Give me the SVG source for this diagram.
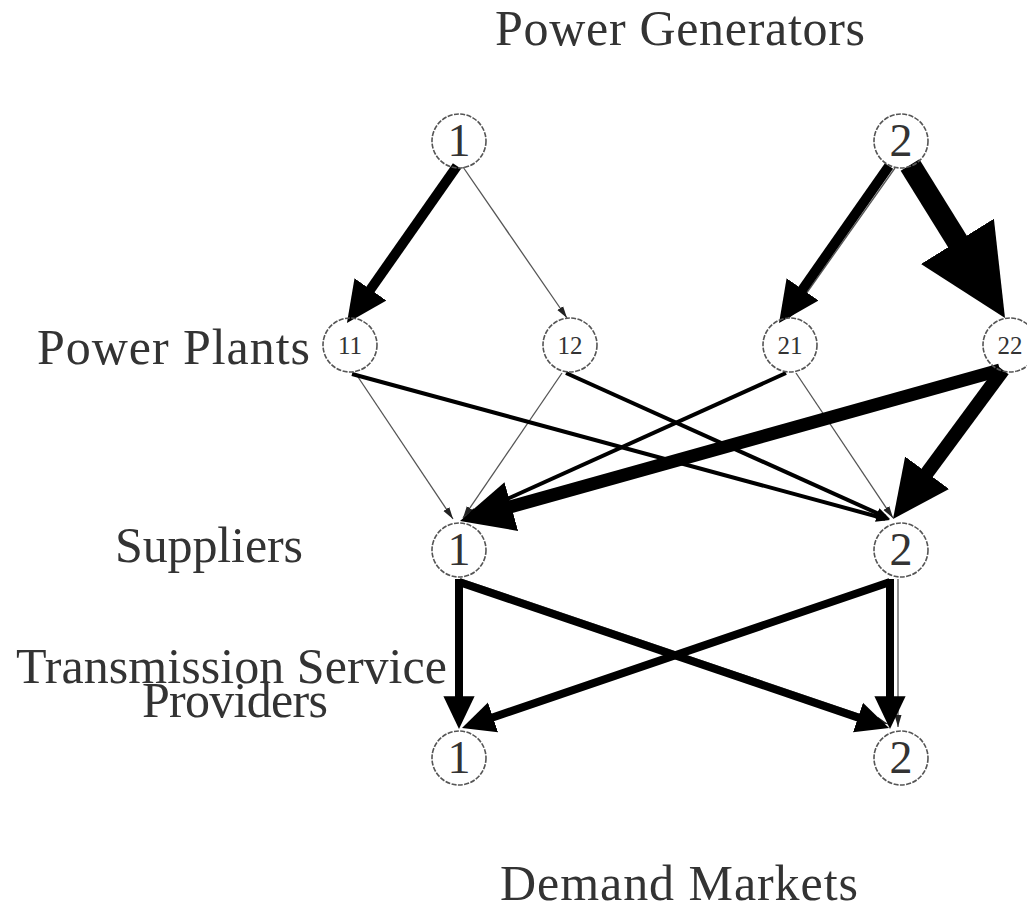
<svg xmlns="http://www.w3.org/2000/svg" width="1027" height="910" viewBox="0 0 1027 910">
<style>
.lbl{font-family:"Liberation Serif","DejaVu Serif",serif;font-size:50px;fill:#333}
.nd{fill:none;stroke:#555;stroke-width:1.6;stroke-dasharray:5 1.4}
.big{font-family:"Liberation Serif","DejaVu Serif",serif;font-size:46px;fill:#333;text-anchor:middle}
.sm{font-family:"Liberation Serif","DejaVu Serif",serif;font-size:25px;fill:#333;text-anchor:middle}
.thin{stroke:#555;stroke-width:1.3;fill:none;marker-end:url(#ahThin)}
.med{stroke:#000;stroke-width:4;fill:none;marker-end:url(#ahMed)}
.thick{stroke:#000;fill:none;marker-end:url(#ah)}
</style>
<defs>
<marker id="ah" viewBox="0 -2 4.1 4" refX="1.6" refY="0" markerWidth="4.1" markerHeight="4" orient="auto" markerUnits="strokeWidth"><path d="M0,-1.95 L4.1,0 L0,1.95 z" fill="#000"/></marker>
<marker id="ahThin" viewBox="0 -4 12 8" refX="12" refY="0" markerWidth="12" markerHeight="8" orient="auto" markerUnits="userSpaceOnUse"><path d="M0,-3.5 L12,0 L0,3.5 z" fill="#222"/></marker>
<marker id="ahMed" viewBox="0 -6 14 12" refX="9" refY="0" markerWidth="14" markerHeight="12" orient="auto" markerUnits="userSpaceOnUse"><path d="M0,-5.5 L14,0 L0,5.5 z" fill="#000"/></marker>
</defs>
<rect width="1027" height="910" fill="#fff"/>
<g id="labels">
<text class="lbl" x="495" y="45" textLength="370">Power Generators</text>
<text class="lbl" x="37" y="364" textLength="273">Power Plants</text>
<text class="lbl" x="115" y="562" textLength="188">Suppliers</text>
<text class="lbl" x="16" y="683" textLength="431">Transmission Service</text>
<text class="lbl" x="142" y="717" textLength="186">Providers</text>
<text class="lbl" x="500" y="900" textLength="358">Demand Markets</text>
</g>
<g id="connectors">
<line class="thin" x1="463" y1="167" x2="567" y2="318"/>
<line class="thin" x1="895" y1="168" x2="789" y2="318"/>
<line class="thin" x1="356" y1="374" x2="453" y2="519"/>
<line class="thin" x1="562" y1="373" x2="463" y2="518"/>
<line class="thin" x1="796" y1="373" x2="893" y2="518"/>
<line class="thin" x1="461" y1="579" x2="888" y2="724"/>
<line class="thin" x1="898" y1="579" x2="898" y2="727"/>
<line class="med" x1="786" y1="373" x2="467.6" y2="516.9"/>
<line class="med" x1="352" y1="374" x2="885.2" y2="518.7"/>
<line class="med" x1="566" y1="373" x2="885.4" y2="516.9"/>
<line class="thick" stroke-width="10" x1="457" y1="166" x2="361.3" y2="302.5"/>
<line class="thick" stroke-width="10" x1="889" y1="166" x2="793.4" y2="302.5"/>
<line class="thick" stroke-width="22" x1="910" y1="165" x2="976" y2="271.3"/>
<line class="thick" stroke-width="13" x1="1000" y1="370" x2="491.3" y2="512.2"/>
<line class="thick" stroke-width="14" x1="1003" y1="370" x2="913.8" y2="490.8"/>
<line class="thick" stroke-width="8" x1="459" y1="579" x2="459" y2="709"/>
<line class="thick" stroke-width="8" x1="459" y1="582" x2="870.1" y2="721.6"/>
<line class="thick" stroke-width="8" x1="890" y1="582" x2="480.9" y2="721.5"/>
<line class="thick" stroke-width="8" x1="890" y1="579" x2="890" y2="709"/>
</g>
<g id="G1"><circle class="nd" cx="459" cy="141" r="27"/><text class="big" x="459" y="156">1</text></g>
<g id="G2"><circle class="nd" cx="901" cy="141" r="27"/><text class="big" x="901" y="156">2</text></g>
<g id="P11"><circle class="nd" cx="350" cy="345" r="27"/><text class="sm" x="350" y="354">11</text></g>
<g id="P12"><circle class="nd" cx="570" cy="345" r="27"/><text class="sm" x="570" y="354">12</text></g>
<g id="P21"><circle class="nd" cx="790" cy="345" r="27"/><text class="sm" x="790" y="354">21</text></g>
<g id="P22"><circle class="nd" cx="1010" cy="345" r="27"/><text class="sm" x="1010" y="354">22</text></g>
<g id="S1"><circle class="nd" cx="459" cy="550" r="27"/><text class="big" x="459" y="565">1</text></g>
<g id="S2"><circle class="nd" cx="901" cy="550" r="27"/><text class="big" x="901" y="565">2</text></g>
<g id="D1"><circle class="nd" cx="459" cy="758" r="27"/><text class="big" x="459" y="773">1</text></g>
<g id="D2"><circle class="nd" cx="901" cy="758" r="27"/><text class="big" x="901" y="773">2</text></g>
</svg>
